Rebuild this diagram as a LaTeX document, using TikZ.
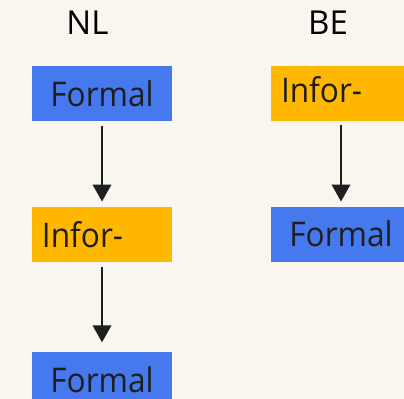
\documentclass[tikz,border=0pt]{standalone}
\usepackage{fontspec}
\setmainfont{Open Sans}
\newfontfamily\labelfont{Open Sans}[FakeStretch=0.93]
\usetikzlibrary{arrows.meta}
\definecolor{bgcream}{RGB}{249,245,239}
\definecolor{formalblue}{RGB}{70,120,238}
\definecolor{informalorange}{RGB}{255,183,0}
\definecolor{inkdark}{RGB}{30,30,30}
\begin{document}
\begin{tikzpicture}[x=1bp,y=-1bp,
  box/.style={minimum width=140bp, minimum height=55bp, inner ysep=0pt,
    outer sep=0pt, text=inkdark, text depth=0pt,
    font=\labelfont\fontsize{34bp}{34bp}\selectfont},
  formal/.style={box, fill=formalblue, inner xsep=0pt, text height=26.4bp},
  informal/.style={box, fill=informalorange, inner xsep=10bp,
    text width=120bp, align=left, text height=26bp},
  header/.style={text=black, anchor=base, inner sep=0pt,
    font=\fontsize{33bp}{33bp}\selectfont},
  flow/.style={draw=inkdark, line width=2.2bp,
    -{Triangle[width=18.5bp,length=17bp]}}]
  % canvas
  \fill[bgcream] (0,0) rectangle (404,399);
  \useasboundingbox (0,0) rectangle (404,399);

  % column headings
  \node[header] (nlhead) at (87.5,34.5) {NL};
  \node[header] (behead) at (328,34.5) {BE};

  % NL column
  \node[formal]   (nlA) at (102,93.5)  {Formal};
  \node[informal] (nlB) at (102,234)   {Infor-};
  \node[formal]   (nlC) at (102,379.5) {Formal};

  % BE column
  \node[informal, text height=18bp] (beA) at (341,93) {Infor-};
  \node[formal, text height=25.4bp] (beB) at (341,234) {Formal};

  % sequence arrows
  \draw[flow, shorten <=4.5bp, shorten >=5bp] (nlA.south) -- (nlB.north);
  \draw[flow, shorten <=5.5bp, shorten >=9.7bp] (nlB.south) -- (nlC.north);
  \draw[flow, shorten <=4.5bp, shorten >=5bp] (beA.south) -- (beB.north);
\end{tikzpicture}
\end{document}
